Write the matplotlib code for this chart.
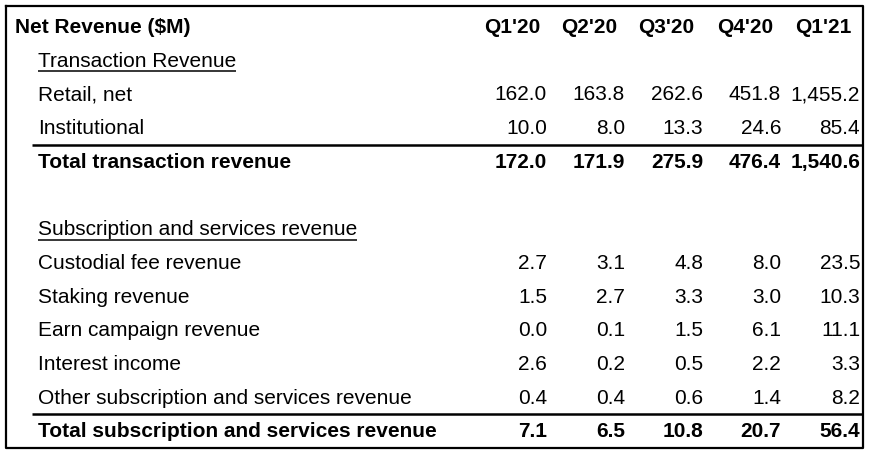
import matplotlib
matplotlib.use("Agg")
import matplotlib.pyplot as plt

plt.rcParams['font.family'] = ['Liberation Sans', 'DejaVu Sans']

## Table data
title = "Net Revenue ($M)"
quarters = ["Q1'20", "Q2'20", "Q3'20", "Q4'20", "Q1'21"]

txn_heading = "Transaction Revenue"
txn_labels = ["Retail, net", "Institutional"]
txn_values = [
    [162.0, 163.8, 262.6, 451.8, 1455.2],
    [10.0, 8.0, 13.3, 24.6, 85.4],
]
txn_total_label = "Total transaction revenue"
txn_total = [172.0, 171.9, 275.9, 476.4, 1540.6]

sub_heading = "Subscription and services revenue"
sub_labels = ["Custodial fee revenue", "Staking revenue", "Earn campaign revenue",
              "Interest income", "Other subscription and services revenue"]
sub_values = [
    [2.7, 3.1, 4.8, 8.0, 23.5],
    [1.5, 2.7, 3.3, 3.0, 10.3],
    [0.0, 0.1, 1.5, 6.1, 11.1],
    [2.6, 0.2, 0.5, 2.2, 3.3],
    [0.4, 0.4, 0.6, 1.4, 8.2],
]
sub_total_label = "Total subscription and services revenue"
sub_total = [7.1, 6.5, 10.8, 20.7, 56.4]

## Layout (pixel coords)
W, H = 872, 454
fs = 15
row_h = 33.7
y0 = 27.5
val_right = [547, 625, 703, 781, 860]   # right edge of each value column
head_mid = [512, 589, 666, 745, 823]    # centre of each quarter header
label_x = 38
rule_x0 = 32
rule_x1 = 862

fig = plt.figure(figsize=(W/100, H/100), dpi=100)
ax = fig.add_axes([0, 0, 1, 1])
ax.set_xlim(0, W)
ax.set_ylim(H, 0)
ax.axis('off')

def fmt(v):
    return "{:,.1f}".format(v)

def value_row(y, vals, bold=False):
    for i, v in enumerate(vals):
        ax.text(val_right[i], y, fmt(v), ha='right', va='center', fontsize=fs,
                fontweight='bold' if bold else 'normal')

# Header
ax.text(15, y0, title, ha='left', va='center', fontsize=fs, fontweight='bold')
for i, q in enumerate(quarters):
    ax.text(head_mid[i], y0, q, ha='center', va='center', fontsize=fs, fontweight='bold')

rows = [('heading', txn_heading, None)]
rows += [('row', l, v) for l, v in zip(txn_labels, txn_values)]
rows += [('total', txn_total_label, txn_total), ('blank', None, None),
         ('heading', sub_heading, None)]
rows += [('row', l, v) for l, v in zip(sub_labels, sub_values)]
rows += [('total', sub_total_label, sub_total)]

for k, (kind, lab, vals) in enumerate(rows):
    y = y0 + (k + 1) * row_h
    if kind == 'heading':
        t = ax.text(label_x, y, lab, ha='left', va='center', fontsize=fs)
        # underline: figure pixels == data x since axes spans the figure
        fig.canvas.draw()
        bb = t.get_window_extent(renderer=fig.canvas.get_renderer())
        ax.plot([bb.x0, bb.x1], [y + 10, y + 10], color='black', lw=1.1,
                solid_capstyle='butt')
    elif kind == 'row':
        ax.text(label_x, y, lab, ha='left', va='center', fontsize=fs)
        value_row(y, vals)
    elif kind == 'total':
        ax.text(label_x, y, lab, ha='left', va='center', fontsize=fs, fontweight='bold')
        value_row(y, vals, bold=True)
        ax.plot([rule_x0, rule_x1], [y - 17.5, y - 17.5], color='black', lw=1.8,
                solid_capstyle='butt')

# Outer border
ax.plot([6, 863, 863, 6, 6], [6, 6, 448, 448, 6], color='black', lw=1.6)

fig.savefig("out.png", dpi=100)
